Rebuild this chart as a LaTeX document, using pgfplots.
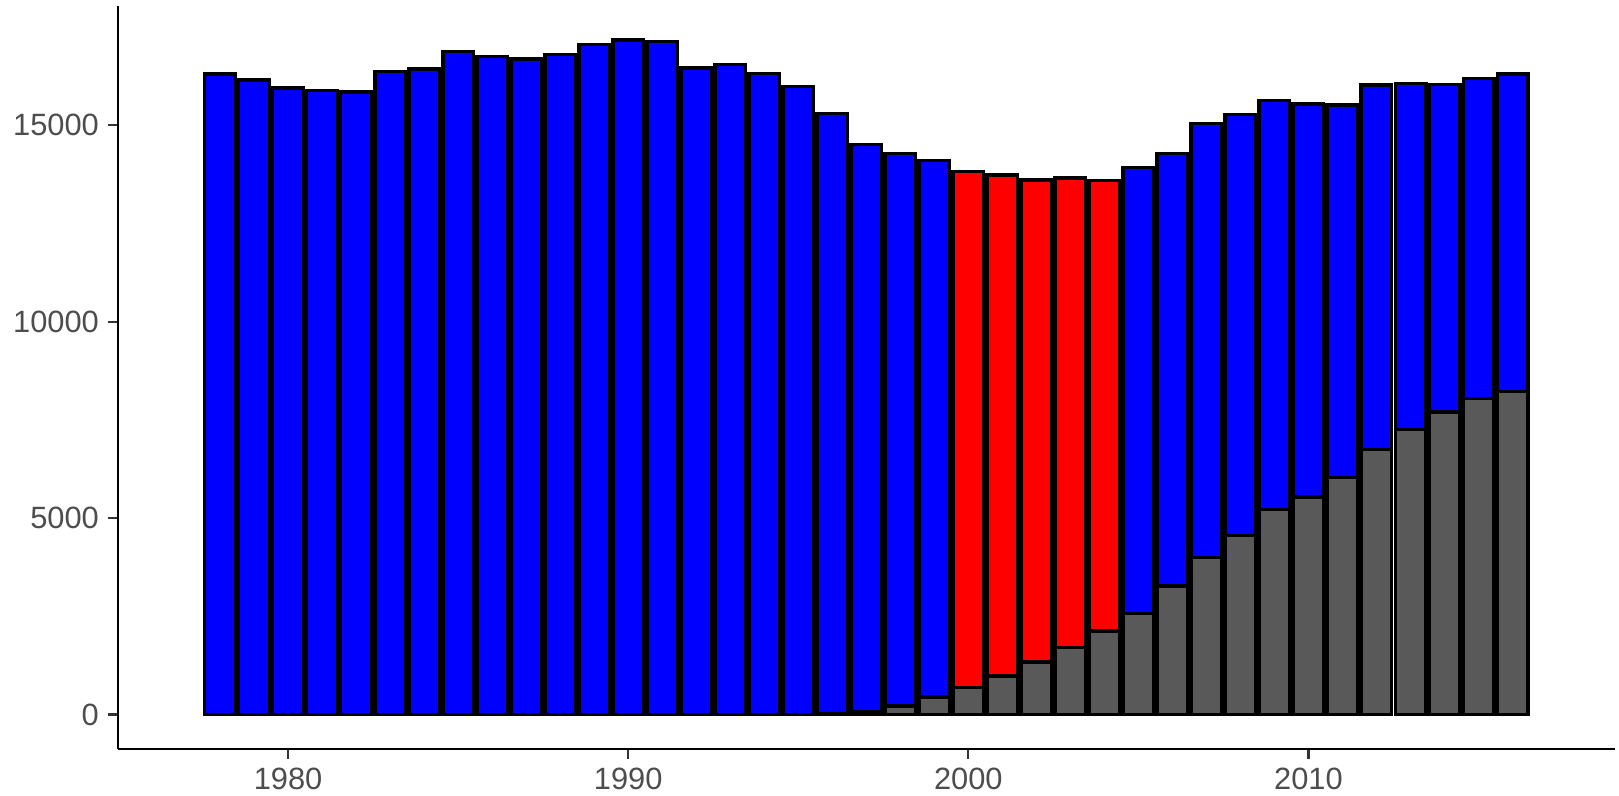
\documentclass[border=0pt]{standalone}
\usepackage{pgfplots}
\pgfplotsset{compat=1.18}
\usepackage{fontspec}
\setmainfont{Liberation Sans}
\definecolor{ticklab}{HTML}{4D4D4D}
\definecolor{tickcol}{HTML}{333333}
\definecolor{bargray}{HTML}{595959}
\begin{document}
\begin{tikzpicture}
\begin{axis}[
  at={(0,0)}, anchor=south west,
  scale only axis, width=573.2pt, height=284.6pt,
  xmin=1975, xmax=2019, ymin=-880, ymax=18040,
  axis x line*=bottom, axis y line*=left,
  axis line style={line width=0.85pt, black},
  xtick={1980,1990,2000,2010}, ytick={0,5000,10000,15000},
  scaled y ticks=false, scaled x ticks=false,
  minor tick num=0,
  tick style={line width=0.85pt, color=tickcol},
  tick align=outside, major tick length=3.8pt,
  tick label style={font=\fontsize{11.8}{14}\selectfont, text=ticklab},
  /pgf/number format/1000 sep={},
  /pgf/number format/assume math mode=true,
  ybar, bar width=0.9,
]
\addplot[ybar, bar shift=0pt, bar width=0.9, fill=blue, draw=black, line width=1.3pt] coordinates {
(1978,16310) (1979,16160) (1980,15950) (1981,15890) (1982,15850)
(1983,16370) (1984,16440) (1985,16880) (1986,16750) (1987,16690)
(1988,16800) (1989,17060) (1990,17170) (1991,17130) (1992,16460)
(1993,16550) (1994,16320) (1995,15990) (1996,15300) (1997,14520)
(1998,14280) (1999,14100) (2005,13930) (2006,14290) (2007,15050)
(2008,15280) (2009,15630) (2010,15540) (2011,15520) (2012,16030)
(2013,16060) (2014,16040) (2015,16200) (2016,16310)
};
\addplot[ybar, bar shift=0pt, bar width=0.9, fill=red, draw=black, line width=1.3pt] coordinates {
(2000,13820) (2001,13740) (2002,13610) (2003,13660) (2004,13590)
};
\addplot[ybar, bar shift=0pt, bar width=0.9, fill=bargray, draw=black, line width=1.3pt] coordinates {
(1996,10) (1997,70) (1998,220) (1999,450) (2000,690) (2001,985)
(2002,1340) (2003,1705) (2004,2125) (2005,2570) (2006,3275)
(2007,3990) (2008,4550) (2009,5220) (2010,5540) (2011,6035)
(2012,6750) (2013,7255) (2014,7705) (2015,8045) (2016,8230)
};
\end{axis}
\pgfresetboundingbox
\path[use as bounding box] (-45.2pt,-17.6pt) rectangle (574.9pt,286.9pt);
\end{tikzpicture}
\end{document}
